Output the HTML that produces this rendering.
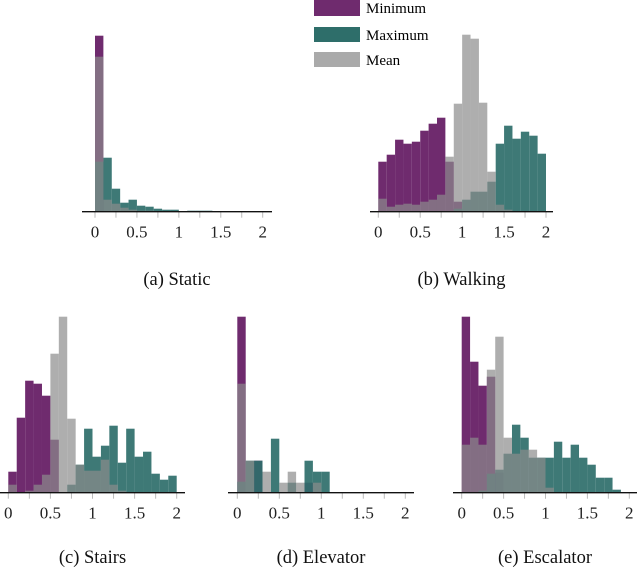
<!DOCTYPE html>
<html><head><meta charset="utf-8">
<style>
body{margin:0;background:#fff;width:640px;height:575px;overflow:hidden}
svg{display:block}
text{font-family:"Liberation Serif","DejaVu Serif",serif}
</style></head>
<body>
<svg id="chart" width="640" height="575">
  <g>
    <rect x="314" y="0" width="46" height="16" fill="#6f2b6e"/>
    <text x="366" y="13" font-size="15" font-family="Liberation Serif, serif">Minimum</text>
    <rect x="314" y="27" width="46" height="15" fill="#2e6e6a"/>
    <text x="366" y="40" font-size="15" font-family="Liberation Serif, serif">Maximum</text>
    <rect x="314" y="52" width="46" height="15" fill="#aaaaaa"/>
    <text x="366" y="65" font-size="15" font-family="Liberation Serif, serif">Mean</text>
  </g>
</svg>
<script>
const tickLabels = ["0","0.5","1","1.5","2"];
const tickValues = [0,0.5,1,1.5,2];
const binEdgesStart = 0;
const binWidth = 0.1;

const staticMin  = [176,0,0,0,0,0,0,0,0,0,0,0,0,0,0,0,0,0,0,0];
const staticMax  = [50,54,23,9,12,6,5,3,2,2,0,1,1,1,0,0,0,0,0,0];
const staticMean = [155,12,8,4,2,1,1,0,0,0,0,0,0,0,0,0,0,0,0,0];

const walkingMin  = [50,57,72,68,70,81,88,94,50,10,0,0,0,0,0,0,0,0,0,0];
const walkingMax  = [0,0,0,0,0,0,0,0,0,3,12,20,20,30,68,86,73,80,76,58];
const walkingMean = [13,5,7,8,7,10,12,17,55,108,177,173,109,40,7,2,0,0,0,0];

const stairsMin  = [21,75,112,109,97,53,0,0,0,0,0,0,0,0,0,0,0,0,0,0];
const stairsMax  = [0,0,0,0,0,0,0,8,28,64,36,47,67,30,64,36,41,19,13,17];
const stairsMean = [8,0,2,8,18,139,176,74,28,22,22,33,8,2,0,0,0,0,0,0];

const elevatorMin  = [176,0,32,0,0,0,0,0,10,0,0,0,0,0,0,0,0,0,0,0];
const elevatorMax  = [11,32,32,0,54,0,10,0,32,21,21,0,0,0,0,0,0,0,0,0];
const elevatorMean = [109,32,0,21,0,10,21,10,0,10,0,0,0,0,0,0,0,0,0,0];

const escalatorMin  = [176,131,107,116,20,0,0,0,0,0,0,0,0,0,0,0,0,0,0,0];
const escalatorMax  = [0,0,2,19,23,39,68,55,35,35,35,51,35,48,35,28,15,15,3,0];
const escalatorMean = [48,55,48,123,156,55,39,43,43,35,5,0,0,0,0,0,0,0,0,0];

const panels = [
  {name:"static",   caption:"(a) Static",   x0:95,   x2:262.7, base:211.7, axL:82,  axR:272, min:staticMin,   max:staticMax,   mean:staticMean,   capY:285},
  {name:"walking",  caption:"(b) Walking",  x0:378.3,x2:546,   base:211.7, axL:370, axR:553, min:walkingMin,  max:walkingMax,  mean:walkingMean,  capY:285},
  {name:"stairs",   caption:"(c) Stairs",   x0:8.3,  x2:176.7, base:492.7, axL:0,   axR:185, min:stairsMin,   max:stairsMax,   mean:stairsMean,   capY:563},
  {name:"elevator", caption:"(d) Elevator", x0:237.3,x2:405.3, base:492.7, axL:228, axR:414, min:elevatorMin, max:elevatorMax, mean:elevatorMean, capY:563},
  {name:"escalator",caption:"(e) Escalator",x0:461.7,x2:629.3, base:492.7, axL:453, axR:637, min:escalatorMin,max:escalatorMax,mean:escalatorMean,capY:563}
];

const NS = "http://www.w3.org/2000/svg";
const svg = document.getElementById("chart");
function mk(tag, attrs){const e=document.createElementNS(NS,tag);for(const k in attrs)e.setAttribute(k,attrs[k]);return e;}

panels.forEach(p=>{
  const g = mk("g",{});
  
  
  svg.appendChild(g);
  const xs = v => p.x0 + (v - 0) * (p.x2 - p.x0) / 2;
  const ys = v => p.base - v;
  const series = [
    {vals:p.min, fill:"#6f2b6e", op:1, key:"minimum"},
    {vals:p.max, fill:"#2e6e6a", op:0.92, key:"maximum"},
    {vals:p.mean, fill:"#8c8c8c", op:0.7, key:"mean"}
  ];
  series.forEach(s=>{
    s.vals.forEach((v,i)=>{
      if(v<=0) return;
      const xa = xs(binEdgesStart + i*binWidth), xb = xs(binEdgesStart + (i+1)*binWidth);
      const r = mk("rect",{x:xa,y:ys(v),width:xb-xa,height:v,fill:s.fill,"fill-opacity":s.op});
      
      
      g.appendChild(r);
    });
  });
  for(let t=0;t<=2.0001;t+=0.25){
    const tk = mk("line",{x1:xs(t),x2:xs(t),y1:p.base,y2:p.base+6,stroke:"#bbb","stroke-width":1});
    
    
    g.appendChild(tk);
  }
  const ax = mk("line",{x1:p.axL,x2:p.axR,y1:p.base,y2:p.base,stroke:"#111","stroke-width":1.3});
  
  
  g.appendChild(ax);
  tickValues.forEach((t,i)=>{
    const tx = mk("text",{x:xs(t),y:p.base+26,"font-size":17,"text-anchor":"middle",fill:"#222","font-family":"Liberation Serif, serif"});
    tx.textContent = tickLabels[i];
    
    
    g.appendChild(tx);
  });
  const cap = mk("text",{x:(p.axL+p.axR)/2,y:p.capY,"font-size":18.5,"text-anchor":"middle",fill:"#111","font-family":"Liberation Serif, serif"});
  cap.textContent = p.caption;
  
  
  g.appendChild(cap);
});
</script>
</body></html>
